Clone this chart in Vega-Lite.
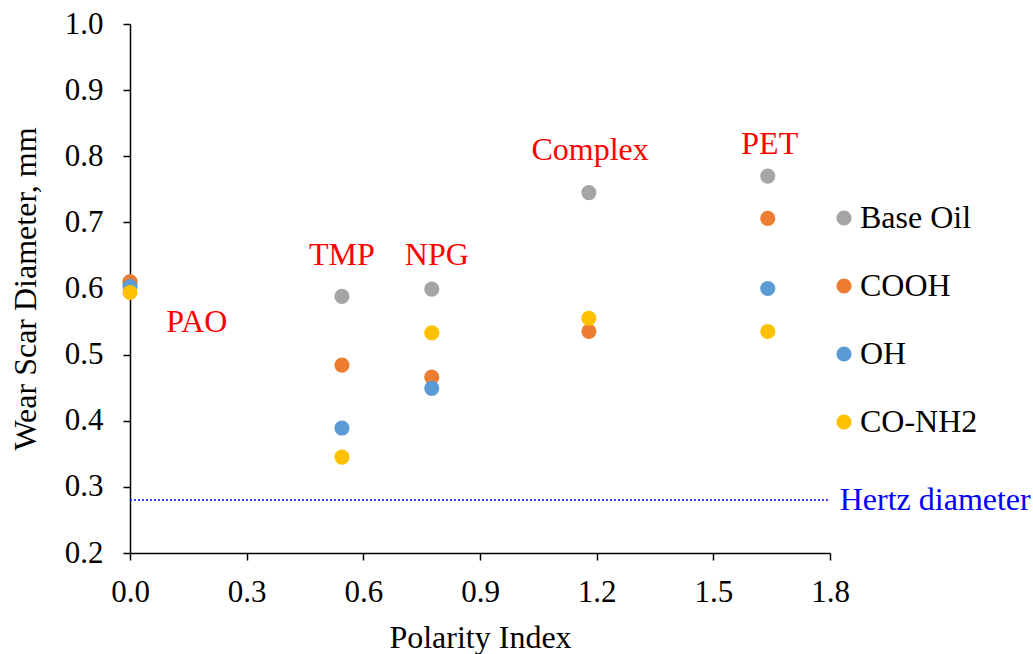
{
  "$schema": "https://vega.github.io/schema/vega-lite/v6.json",
  "width": 700,
  "height": 529,
  "autosize": {"type": "none"},
  "padding": {"left": 130, "top": 24, "right": 203, "bottom": 101},
  "background": "white",
  "config": {
    "view": {"stroke": null},
    "font": "Liberation Serif",
    "axis": {"grid": false, "domainColor": "black", "tickColor": "black", "labelColor": "black", "titleColor": "black", "labelFont": "Liberation Serif", "titleFont": "Liberation Serif", "titleFontWeight": "normal", "domainWidth": 1.5, "tickWidth": 1.5, "labelFontSize": 31, "titleFontSize": 32, "tickSize": 7},
    "axisX": {"labelFlush": false, "labelPadding": 17, "titlePadding": 15},
    "axisY": {"labelPadding": 20, "titlePadding": 22},
    "legend": {"labelFont": "Liberation Serif"}
  },
  "datasets": {
    "points": [
      {"base": "PAO", "series": "Base Oil", "pi": 0.0, "wsd": 0.61},
      {"base": "PAO", "series": "COOH", "pi": 0.0, "wsd": 0.61},
      {"base": "PAO", "series": "OH", "pi": 0.0, "wsd": 0.603},
      {"base": "PAO", "series": "CO-NH2", "pi": 0.0, "wsd": 0.594},
      {"base": "TMP", "series": "Base Oil", "pi": 0.545, "wsd": 0.588},
      {"base": "TMP", "series": "COOH", "pi": 0.545, "wsd": 0.484},
      {"base": "TMP", "series": "OH", "pi": 0.545, "wsd": 0.389},
      {"base": "TMP", "series": "CO-NH2", "pi": 0.545, "wsd": 0.345},
      {"base": "NPG", "series": "Base Oil", "pi": 0.776, "wsd": 0.599},
      {"base": "NPG", "series": "COOH", "pi": 0.776, "wsd": 0.466},
      {"base": "NPG", "series": "OH", "pi": 0.776, "wsd": 0.449},
      {"base": "NPG", "series": "CO-NH2", "pi": 0.776, "wsd": 0.533},
      {"base": "Complex", "series": "Base Oil", "pi": 1.18, "wsd": 0.745},
      {"base": "Complex", "series": "COOH", "pi": 1.18, "wsd": 0.535},
      {"base": "Complex", "series": "CO-NH2", "pi": 1.18, "wsd": 0.555},
      {"base": "PET", "series": "Base Oil", "pi": 1.64, "wsd": 0.77},
      {"base": "PET", "series": "COOH", "pi": 1.64, "wsd": 0.706},
      {"base": "PET", "series": "OH", "pi": 1.64, "wsd": 0.6},
      {"base": "PET", "series": "CO-NH2", "pi": 1.64, "wsd": 0.535}
    ],
    "labels": [
      {"label": "PAO", "x": 0.172, "y": 0.549},
      {"label": "TMP", "x": 0.545, "y": 0.651},
      {"label": "NPG", "x": 0.789, "y": 0.651},
      {"label": "Complex", "x": 1.183, "y": 0.81},
      {"label": "PET", "x": 1.645, "y": 0.818}
    ],
    "hertz": [
      {"name": "Hertz diameter", "d": 0.28, "xstart": 0, "xend": 1.8, "xlabel": 1.825}
    ]
  },
  "layer": [
    {
      "data": {"name": "points"},
      "mark": {"type": "point", "filled": true, "shape": "circle", "size": 230, "opacity": 1},
      "encoding": {
        "x": {"field": "pi", "type": "quantitative", "scale": {"domain": [0, 1.8], "nice": false},
          "axis": {"title": "Polarity Index", "values": [0, 0.3, 0.6, 0.9, 1.2, 1.5, 1.8], "format": ".1f"}},
        "y": {"field": "wsd", "type": "quantitative", "scale": {"domain": [0.2, 1.0], "nice": false, "zero": false},
          "axis": {"title": "Wear Scar Diameter, mm", "values": [0.2, 0.3, 0.4, 0.5, 0.6, 0.7, 0.8, 0.9, 1.0], "format": ".1f"}},
        "color": {"field": "series", "type": "nominal",
          "scale": {"domain": ["Base Oil", "COOH", "OH", "CO-NH2"], "range": ["#A5A5A5", "#ED7D31", "#5B9BD5", "#FFC000"]},
          "legend": {"title": null, "orient": "none", "legendX": 698, "legendY": 178, "labelFontSize": 32, "labelColor": "black", "symbolSize": 230, "symbolType": "circle", "rowPadding": 36, "labelOffset": 0, "symbolStrokeWidth": 0}
        }
      }
    },
    {
      "data": {"name": "hertz"},
      "mark": {"type": "rule", "color": "#0000FF", "strokeDash": [2, 2], "strokeWidth": 1.5},
      "encoding": {
        "x": {"field": "xstart", "type": "quantitative"},
        "x2": {"field": "xend"},
        "y": {"field": "d", "type": "quantitative"}
      }
    },
    {
      "data": {"name": "hertz"},
      "mark": {"type": "text", "color": "#0000FF", "align": "left", "baseline": "middle", "fontSize": 32, "font": "Liberation Serif"},
      "encoding": {
        "x": {"field": "xlabel", "type": "quantitative"},
        "y": {"field": "d", "type": "quantitative"},
        "text": {"field": "name"}
      }
    },
    {
      "data": {"name": "labels"},
      "mark": {"type": "text", "color": "#FF0000", "align": "center", "baseline": "middle", "fontSize": 32, "font": "Liberation Serif"},
      "encoding": {
        "x": {"field": "x", "type": "quantitative"},
        "y": {"field": "y", "type": "quantitative"},
        "text": {"field": "label"}
      }
    }
  ]
}
